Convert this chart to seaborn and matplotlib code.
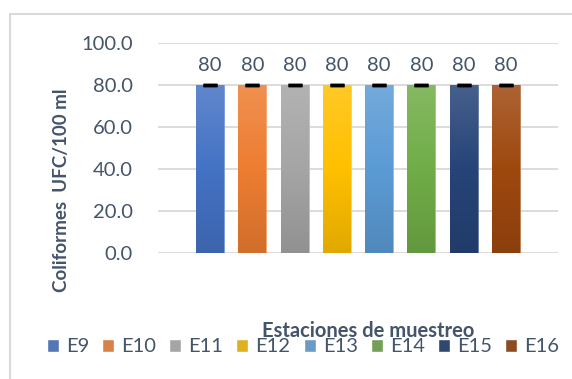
import numpy as np
import pandas as pd
import matplotlib
matplotlib.use("Agg")
import matplotlib.pyplot as plt
import seaborn as sns
from matplotlib.colors import to_rgb, LinearSegmentedColormap
from matplotlib.patches import Rectangle

# ---- data ----
stations = ["E9", "E10", "E11", "E12", "E13", "E14", "E15", "E16"]
values = [80, 80, 80, 80, 80, 80, 80, 80]
errors = [0, 0, 0, 0, 0, 0, 0, 0]
colors = ["#4472C4", "#ED7D31", "#A5A5A5", "#FFC000", "#5B9BD5", "#70AD47", "#264478", "#9E480E"]
yticks = [0, 20, 40, 60, 80, 100]
ylabel = "Coliformes  UFC/100 ml"
xlabel = "Estaciones de muestreo"

sns.set_theme(style="white")
plt.rcParams["font.family"] = ["Lato", "DejaVu Sans"]
TXT = "#44546A"

df = pd.DataFrame({"station": stations, "value": values})

fig = plt.figure(figsize=(5.72, 3.79), dpi=100)
fig.patch.set_facecolor("white")
# chart frame
fig.patches.append(Rectangle((10 / 572, -0.05), 1.2, 1 - 14 / 379 + 0.05,
                             transform=fig.transFigure, fill=False,
                             edgecolor="#D9D9D9", linewidth=1.5, zorder=0))

ax = fig.add_axes([158 / 572, 1 - 253 / 379, 400 / 572, 210 / 379])
sns.barplot(data=df, x="station", y="value", hue="station", palette=colors,
            width=0.66, legend=True, ax=ax, zorder=3)

ax.set_ylim(0, 100)
ax.set_xlim(-1.23, 8.23)
ax.set_yticks(yticks)
ax.set_yticklabels([f"{t:.1f}" for t in yticks], color=TXT, fontsize=14.5)
ax.tick_params(axis="y", length=0, pad=18)
ax.set_xticks([])
ax.set_xlabel("")
ax.set_ylabel("")
for s in ax.spines.values():
    s.set_visible(False)
ax.yaxis.grid(True, color="#D9D9D9", linewidth=1.3, zorder=0)
ax.set_axisbelow(True)

# gradient fill for bars
def blend(c, t, f):
    c = np.array(to_rgb(c)); t = np.array(to_rgb(t))
    return tuple(c * (1 - f) + t * f)

for cont, col in zip(ax.containers, colors):
    for p in cont.patches:
        x0, y0 = p.get_x(), p.get_y()
        w, h = p.get_width(), p.get_height()
        cmap = LinearSegmentedColormap.from_list(
            "g", [blend(col, "black", 0.12), col, blend(col, "white", 0.15)])
        grad = np.linspace(0, 1, 256).reshape(-1, 1)
        im = ax.imshow(grad, cmap=cmap, aspect="auto", origin="lower",
                       extent=[x0, x0 + w, y0, y0 + h], zorder=3)
        im.set_clip_path(p)
        p.set_edgecolor(blend(col, "white", 0.3))
        p.set_linewidth(0.6)
ax.set_xlim(-1.23, 8.23)
ax.set_ylim(0, 100)

# error caps and labels
xs = [c.patches[0].get_x() + c.patches[0].get_width() / 2 for c in ax.containers]
ax.errorbar(xs, values, yerr=errors, fmt="none", ecolor="black",
            capsize=5, capthick=2.5, elinewidth=0, zorder=5)
for cont in [c for c in ax.containers if c.__class__.__name__ == "BarContainer"]:
    ax.bar_label(cont, fmt="%g", padding=8, color=TXT, fontsize=14.5)

# legend
leg = ax.legend(loc="center", bbox_to_anchor=(303 / 572, 1 - 347 / 379),
                bbox_transform=fig.transFigure, ncol=8, frameon=False,
                fontsize=14.5, handlelength=0.6, handleheight=0.6,
                handletextpad=0.35, columnspacing=0.65, borderpad=0)
for t in leg.get_texts():
    t.set_color(TXT)

fig.text(368 / 572, 1 - 331 / 379, xlabel, ha="center", va="center",
         fontsize=14.5, fontweight="bold", color=TXT)
fig.text(62 / 572, 1 - 190 / 379, ylabel, ha="center", va="center",
         rotation=90, fontsize=13.5, fontweight="bold", color=TXT)

fig.savefig("out.png", dpi=100)
